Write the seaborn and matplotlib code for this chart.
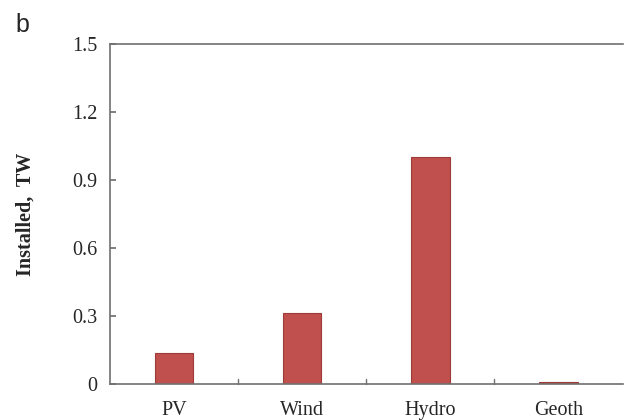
import matplotlib
matplotlib.use("Agg")
import matplotlib.pyplot as plt
import seaborn as sns
import pandas as pd

# data
sources = ["PV", "Wind", "Hydro", "Geoth"]
installed_tw = [0.135, 0.312, 1.0, 0.01]
y_ticks = [0, 0.3, 0.6, 0.9, 1.2, 1.5]
y_tick_labels = ["0", "0.3", "0.6", "0.9", "1.2", "1.5"]

df = pd.DataFrame({"source": sources, "installed": installed_tw})

sns.set_theme(style="white")
plt.rcParams["font.family"] = ["Liberation Serif", "DejaVu Serif"]

fig = plt.figure(figsize=(6.25, 4.2), dpi=100)
ax = fig.add_axes([0.176, 0.086, 0.82, 0.809])

sns.barplot(data=df, x="source", y="installed", color="#C0504D",
            width=0.3, edgecolor="#9E3B38", linewidth=0.8, saturation=1, ax=ax)

ax.set_ylim(0, 1.5)
ax.set_xlim(-0.5, len(sources) - 0.5)
ax.set_yticks(y_ticks)
ax.set_yticklabels(y_tick_labels, fontsize=14.5)
ax.tick_params(axis="x", labelsize=14.5, length=0, pad=12)
ax.tick_params(axis="y", direction="in", length=4, color="#707070", pad=9, left=True)

# category separator ticks on the bottom axis
for b in [0.5, 1.5, 2.5]:
    ax.plot([b, b], [0, 0.02], color="#707070", lw=1, clip_on=False)

for side in ["left", "bottom", "top", "right"]:
    ax.spines[side].set_color("#707070")
    ax.spines[side].set_linewidth(1.2)
ax.spines["right"].set_visible(False)

ax.set_xlabel("")
ax.set_ylabel("Installed,  TW", fontsize=14.5, fontweight="bold", labelpad=26)

fig.text(0.024, 0.925, "b", fontsize=18, family="Liberation Sans")

fig.savefig("out.png", dpi=100)
